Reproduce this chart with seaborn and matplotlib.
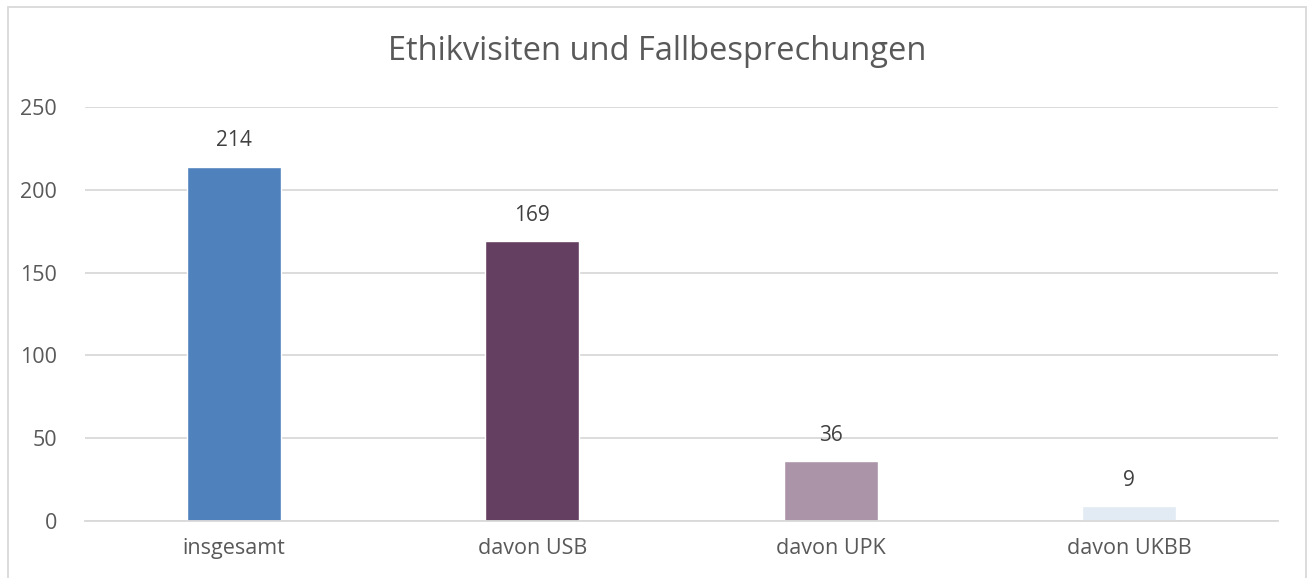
import matplotlib
matplotlib.use("Agg")
import matplotlib.pyplot as plt
import seaborn as sns
import pandas as pd
from matplotlib.patches import Rectangle

categories = ["insgesamt", "davon USB", "davon UPK", "davon UKBB"]
values = [214, 169, 36, 9]
bar_colors = ["#4F81BD", "#643F62", "#AB94A8", "#E2EAF4"]
title = "Ethikvisiten und Fallbesprechungen"

sns.set_theme(style="white")
plt.rcParams["font.family"] = ["Open Sans", "DejaVu Sans"]

df = pd.DataFrame({"cat": categories, "val": values})

W, H = 1309, 578
fig = plt.figure(figsize=(W / 100, H / 100), dpi=100)
ax = fig.add_axes([85 / W, 1 - 521 / H, (1278 - 85) / W, (521 - 107) / H])

sns.barplot(data=df, x="cat", y="val", hue="cat", palette=bar_colors,
            legend=False, width=0.315, saturation=1, ax=ax)

ax.set_ylim(0, 250)
ax.set_xlim(-0.5, 3.5)
ax.set_yticks([0, 50, 100, 150, 200, 250])
ax.yaxis.grid(True, color="#D9D9D9", linewidth=1.3)
ax.set_axisbelow(True)
for s in ["top", "right", "left"]:
    ax.spines[s].set_visible(False)
ax.spines["bottom"].set_color("#D9D9D9")
ax.spines["bottom"].set_linewidth(1.3)
ax.set_xlabel("")
ax.set_ylabel("")
ax.tick_params(axis="y", length=0, pad=20, labelsize=15.5, labelcolor="#595959")
ax.tick_params(axis="x", length=0, pad=12, labelsize=15.5, labelcolor="#595959")

for i, v in enumerate(values):
    ax.annotate(str(v), (i, v), xytext=(0, 18.5), textcoords="offset points",
                ha="center", va="center", fontsize=15, color="#404040")

fig.text(657 / W, 1 - 52 / H, title, ha="center", va="center",
         fontsize=23.5, color="#595959")

fig.patches.append(Rectangle((8 / W, -0.05), (1306 - 8) / W, 1 - 7 / H + 0.05,
                             transform=fig.transFigure, fill=False,
                             edgecolor="#D9D9D9", linewidth=1.3))

fig.savefig("out.png", dpi=100)
